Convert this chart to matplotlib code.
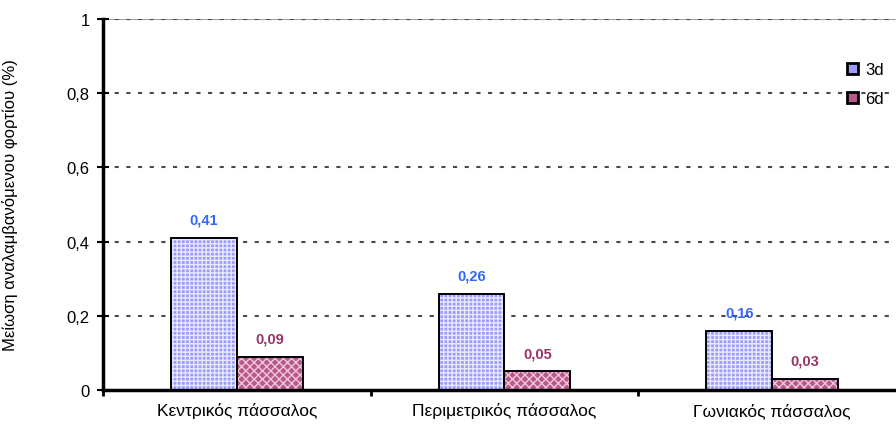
import numpy as np
import matplotlib.pyplot as plt

plt.rcParams['font.family'] = ['Liberation Sans', 'DejaVu Sans']
plt.rcParams['hatch.linewidth'] = 1.0

categories = ['Κεντρικός πάσσαλος', 'Περιμετρικός πάσσαλος', 'Γωνιακός πάσσαλος']
series_names = ['3d', '6d']
values_3d = [0.41, 0.26, 0.16]
values_6d = [0.09, 0.05, 0.03]
yticks = [0, 0.2, 0.4, 0.6, 0.8, 1.0]
ylabel = 'Μείωση αναλαμβανόμενου φορτίου (%)'

W, H = 896, 435
fig = plt.figure(figsize=(W / 100, H / 100), dpi=100)
# plot area runs past the right edge of the figure
ax = fig.add_axes([103 / W, 1 - 391 / H, (906 - 103) / W, (391 - 20) / H])

x = np.arange(len(categories))
bw = 0.246
styles = [
    dict(face='#9c9cff', hatch='++++', hcolor='#e8e8ff', label_color='#3366ff'),
    dict(face='#b9588a', hatch='xxxx', hcolor='#efc6da', label_color='#993366'),
]

for i, (name, vals, st) in enumerate(zip(series_names, [values_3d, values_6d], styles)):
    pos = x + (i - 0.5) * bw
    ax.bar(pos, vals, bw, color=st['face'], edgecolor=st['hcolor'],
           hatch=st['hatch'], linewidth=0, zorder=2)
    ax.bar(pos, vals, bw, fill=False, edgecolor='black', linewidth=1.4,
           zorder=3, label=name)
    for p, v in zip(pos, vals):
        ax.text(p, v + 0.03, f'{v:.2f}'.replace('.', ','), ha='center',
                va='bottom', fontsize=10.5, fontweight='bold',
                color=st['label_color'], zorder=4)

ax.set_xlim(-0.5, 2.5)
ax.set_ylim(0, 1)
ax.set_yticks(yticks)
ax.set_yticklabels(['0' if t == 0 else ('1' if t == 1 else f'{t:.1f}'.replace('.', ',')) for t in yticks],
                   fontsize=12)
ax.set_xticks([-0.5, 0.5, 1.5, 2.5])
ax.set_xticklabels([])
ax.set_xticks(x, minor=True)
ax.set_xticklabels(categories, minor=True, fontsize=12.5)
ax.tick_params(axis='x', which='minor', length=0, pad=9)
ax.tick_params(axis='x', which='major', direction='out', length=4, width=2)
ax.tick_params(axis='y', direction='inout', length=9, width=1.5, pad=5)

ax.axhline(1.0, color='#a0a0a0', linewidth=1.5, zorder=1)
for t in yticks[1:]:
    ax.axhline(t, color='#4a4a4a', linewidth=1.5, linestyle=(0, (2, 3.6)), zorder=1)

for s in ['left', 'bottom']:
    ax.spines[s].set_linewidth(2.5)
for s in ['top', 'right']:
    ax.spines[s].set_visible(False)

ax.set_ylabel(ylabel, fontsize=12)
ax.yaxis.set_label_coords(-85 / (906 - 103), 0.5)

leg = ax.legend(loc='upper left', bbox_to_anchor=(832 / W, 1 - 48 / H),
                bbox_transform=fig.transFigure, frameon=False, fontsize=12,
                handlelength=0.65, handleheight=0.65, handletextpad=0.45,
                labelspacing=0.85)
for h, st in zip(leg.legend_handles, styles):
    h.set_fill(True)
    h.set_facecolor(st['face'])
    h.set_linewidth(2)

fig.savefig('out.png', dpi=100)
